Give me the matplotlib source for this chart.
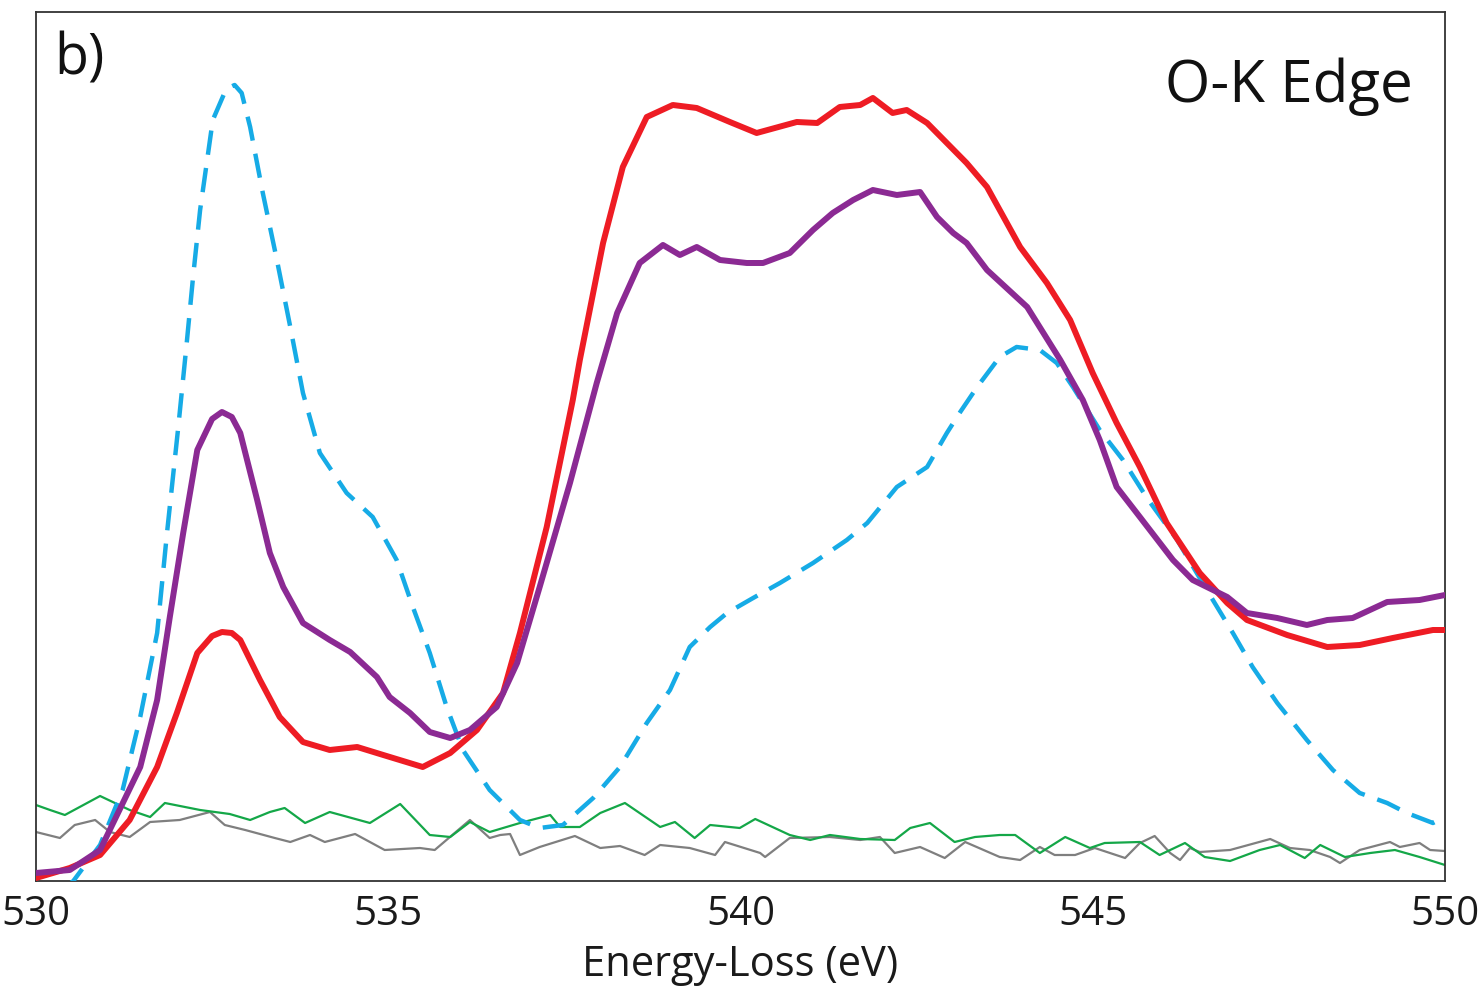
import numpy as np
import matplotlib
matplotlib.use('Agg')
import matplotlib.pyplot as plt

plt.rcParams['font.family'] = ['Open Sans', 'DejaVu Sans']

# O-K edge EELS spectra, energy loss (eV) vs intensity (arb. units)
red_e = [530.00, 530.48, 530.91, 531.33, 531.72, 532.00, 532.29, 532.50, 532.64, 532.78, 532.90, 533.18,
         533.46, 533.79, 534.17, 534.56, 534.93, 535.49, 535.88, 536.26, 536.63, 536.87,
         537.25, 537.62, 537.72, 538.05, 538.33, 538.67, 539.04, 539.38, 539.85, 540.23,
         540.80, 541.09, 541.41, 541.70, 541.88, 542.16, 542.36, 542.65, 542.93, 543.21,
         543.50, 543.97, 544.35, 544.68, 545.00, 545.34, 545.67, 546.05, 546.52, 546.91,
         547.19, 547.76, 548.33, 548.79, 549.26, 549.83, 550.00]
red_i = [3, 13, 26, 61, 114, 168, 228, 245, 249, 248, 241, 201,
         164, 139, 131, 134, 126, 114, 128, 151, 188, 248,
         354, 481, 521, 638, 714, 764, 776, 773, 759, 748,
         759, 758, 774, 776, 783, 768, 771, 758, 738, 718,
         694, 634, 598, 561, 508, 458, 414, 358, 308, 278,
         261, 246, 234, 236, 243, 251, 251]

purple_e = [530.00, 530.48, 530.91, 531.48, 531.72, 531.90, 532.09, 532.29, 532.50, 532.64, 532.78, 532.90,
            533.14, 533.32, 533.51, 533.79, 534.17, 534.46, 534.84, 535.02, 535.31, 535.59,
            535.88, 536.16, 536.54, 536.83, 537.15, 537.58, 537.96, 538.25, 538.57, 538.90,
            539.14, 539.38, 539.71, 540.09, 540.32, 540.70, 541.03, 541.31, 541.60, 541.88,
            542.22, 542.55, 542.79, 543.02, 543.21, 543.50, 544.07, 544.54, 544.86, 545.10,
            545.34, 545.67, 546.14, 546.42, 546.91, 547.19, 547.62, 548.04, 548.33, 548.69,
            549.18, 549.64, 550.00]
purple_i = [8, 11, 31, 114, 181, 264, 348, 431, 462, 469, 464, 448,
            381, 328, 294, 258, 241, 229, 204, 184, 168, 149,
            143, 151, 174, 218, 294, 398, 498, 568, 618, 636,
            626, 634, 621, 618, 618, 628, 651, 668, 681, 691,
            686, 689, 664, 648, 638, 611, 574, 521, 481, 441,
            394, 364, 321, 301, 284, 268, 263, 256, 261, 263,
            279, 281, 286]

blue_e = [530.00, 530.53, 530.91, 531.23, 531.48, 531.72, 531.86, 532.02, 532.14, 532.23,
          532.33, 532.51, 532.70, 532.82, 532.92, 533.04, 533.22, 533.42, 533.61, 533.79, 534.03, 534.41,
          534.78, 535.12, 535.35, 535.59, 535.83, 536.06, 536.44, 536.87, 537.15, 537.48,
          537.91, 538.29, 538.67, 539.00, 539.28, 539.57, 539.81, 540.18, 540.56, 541.03,
          541.51, 541.80, 542.22, 542.65, 542.93, 543.12, 543.36, 543.68, 543.92, 544.25,
          544.49, 544.72, 545.10, 545.43, 545.77, 546.20, 546.62, 546.99, 547.27, 547.62,
          548.04, 548.41, 548.79, 549.18, 549.46, 549.83, 550.00]
blue_i = [-29, 0, 36, 91, 164, 248, 348, 454, 538, 604,
          671, 761, 792, 796, 788, 754, 688, 621, 554, 488, 428, 388,
          364, 321, 274, 228, 174, 131, 91, 61, 53, 56,
          83, 114, 158, 191, 234, 254, 268, 283, 298, 318,
          341, 358, 394, 414, 448, 469, 494, 524, 534, 531,
          518, 494, 451, 421, 383, 341, 291, 248, 214, 178,
          141, 111, 88, 78, 68, 58, 64]

green_e = [530.00, 530.20, 530.41, 530.91, 531.33, 531.62, 531.83, 532.33, 532.75, 533.04,
           533.32, 533.53, 533.82, 534.17, 534.74, 535.17, 535.59, 535.88, 536.16, 536.44,
           536.87, 537.30, 537.44, 537.72, 538.01, 538.36, 538.86, 539.07, 539.35, 539.57,
           539.99, 540.21, 540.70, 540.99, 541.27, 541.70, 542.19, 542.41, 542.69, 543.04,
           543.33, 543.68, 543.90, 544.25, 544.61, 544.96, 545.17, 545.67, 545.95, 546.31,
           546.59, 546.95, 547.37, 547.66, 548.01, 548.23, 548.58, 548.94, 549.29, 549.64,
           550.00]
green_i = [76, 71, 66, 85, 71, 64, 78, 71, 67, 61,
           69, 73, 58, 69, 58, 77, 46, 44, 59, 49,
           58, 66, 54, 54, 68, 78, 54, 59, 43, 56,
           53, 62, 46, 41, 46, 42, 41, 53, 58, 39,
           44, 46, 46, 28, 44, 33, 38, 39, 26, 38,
           24, 20, 31, 36, 23, 36, 24, 28, 31, 24,
           16]

gray_e = [530.00, 530.34, 530.55, 530.84, 531.05, 531.33, 531.62, 532.04, 532.47, 532.68,
          532.97, 533.39, 533.61, 533.89, 534.10, 534.53, 534.95, 535.45, 535.66, 536.16,
          536.44, 536.59, 536.73, 536.87, 537.15, 537.65, 538.01, 538.29, 538.64, 538.86,
          539.28, 539.64, 539.78, 540.28, 540.35, 540.70, 541.27, 541.70, 541.98, 542.19,
          542.55, 542.90, 543.19, 543.68, 543.97, 544.25, 544.46, 544.75, 545.03, 545.46,
          545.67, 545.88, 546.10, 546.24, 546.38, 546.52, 546.95, 547.52, 547.80, 548.08,
          548.37, 548.51, 548.79, 549.22, 549.36, 549.64, 549.79, 550.00]
gray_i = [49, 43, 56, 61, 49, 44, 59, 61, 69, 56,
          51, 43, 39, 46, 39, 47, 31, 33, 31, 61,
          43, 46, 47, 26, 34, 45, 33, 35, 26, 36,
          33, 26, 39, 28, 24, 43, 44, 41, 44, 28,
          34, 23, 39, 24, 21, 34, 26, 26, 33, 23,
          38, 45, 28, 21, 33, 29, 31, 42, 33, 31,
          24, 18, 31, 39, 34, 38, 31, 30]

xticks = [530, 535, 540, 545, 550]

fig = plt.figure(figsize=(14.8, 9.91), dpi=100)
ax = fig.add_axes([0.0243, 0.111, 0.952, 0.8769])

ax.plot(gray_e, gray_i, color='#7f7f7f', lw=1.6, zorder=2)
ax.plot(green_e, green_i, color='#14a748', lw=1.6, zorder=2)
ax.plot(blue_e, blue_i, color='#16abe6', lw=3.2, ls=(0, (5.5, 3.0)), zorder=3)
ax.plot(red_e, red_i, color='#ee1c24', lw=4.3, zorder=4, solid_joinstyle='round')
ax.plot(purple_e, purple_i, color='#8b2a93', lw=4.3, zorder=5, solid_joinstyle='round')

ax.set_xlim(530, 550)
ax.set_ylim(0, 869)
ax.set_xticks(xticks)
ax.set_xticklabels([str(t) for t in xticks])
ax.set_yticks([])
ax.tick_params(axis='x', length=0, pad=10, labelsize=29, colors='#1a1a1a')
for s in ax.spines.values():
    s.set_color('#333333')
    s.set_linewidth(1.3)

ax.set_xlabel('Energy-Loss (eV)', fontsize=30, color='#1a1a1a', labelpad=6)

ax.text(0.013, 0.977, 'b)', transform=ax.transAxes, fontsize=40,
        ha='left', va='top', color='#111111')
ax.text(0.977, 0.948, 'O-K Edge', transform=ax.transAxes, fontsize=42,
        ha='right', va='top', color='#111111')

fig.savefig('out.png', dpi=100)
